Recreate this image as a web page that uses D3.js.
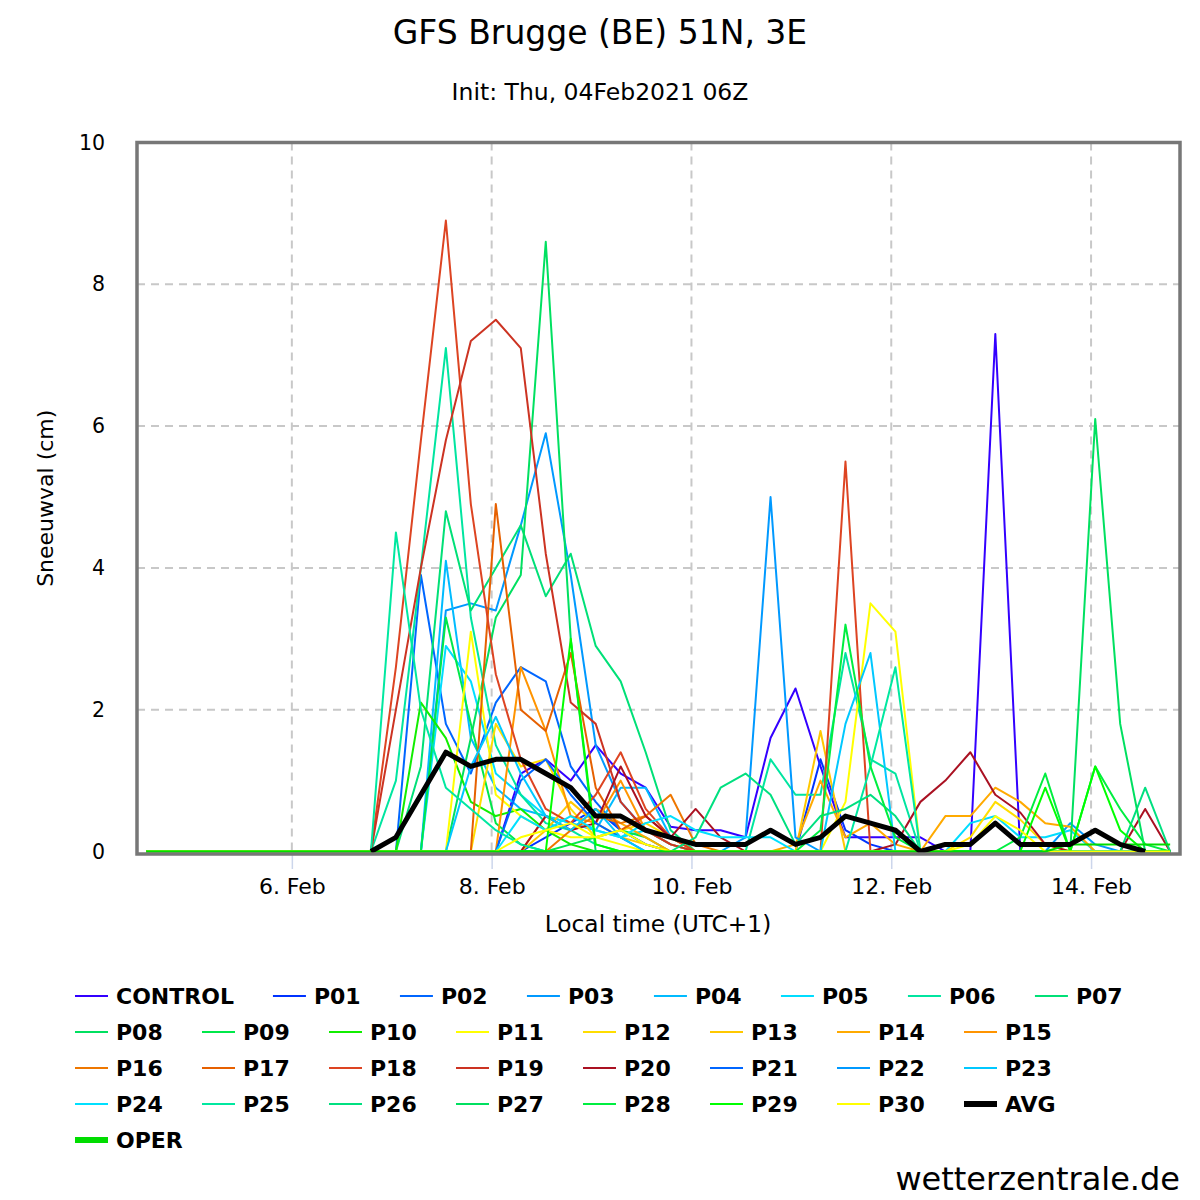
<!DOCTYPE html>
<html>
<head>
<meta charset="utf-8">
<script src="https://cdn.jsdelivr.net/npm/d3@7"></script>
<style>
  body { margin: 0; background: #fff; }
  svg { display: block; font-family: "DejaVu Sans", sans-serif; }
</style>
</head>
<body>
<svg id="chart" width="1200" height="1200"></svg>
<script>
// tijdstappen: elke 6 uur vanaf 4 Feb 13:00 lokale tijd (UTC+1), 42 punten
const startLocal = Date.UTC(2021, 1, 4, 13);
const stepHours = 6;
const nSteps = 42;

const names = ["CONTROL", "P01", "P02", "P03", "P04", "P05", "P06", "P07",
  "P08", "P09", "P10", "P11", "P12", "P13", "P14", "P15",
  "P16", "P17", "P18", "P19", "P20", "P21", "P22", "P23",
  "P24", "P25", "P26", "P27", "P28", "P29", "P30"];

const colors = ["#3300ff", "#0033ff", "#0066ff", "#0099ff", "#00bbff", "#00ddff", "#00e5a0", "#00e077",
  "#00e060", "#00e84a", "#11ee00", "#ffff00", "#ffdd00", "#ffc800", "#ffaa00", "#ff9400",
  "#ee7700", "#e66000", "#dd4422", "#cc3322", "#aa1122", "#0066ff", "#0099ff", "#00c8ff",
  "#00e0ff", "#00e8a0", "#00e080", "#00e060", "#00ee40", "#00ff00", "#ffff00"];

// sneeuwval (cm) per lid
const CONTROL = [0,0,0,0,0,0,0,0,0, 0,0,0,0,0,0,1.1,1.3,1.0,1.5,1.1,0.9,0.35,0.3,0.3,0.2,1.6,2.3,1.2,0.2,0.2,0.2,0.2,0,0,7.3,0,0,0,0,0,0,0];
const P01 = [0,0,0,0,0,0,0,0,0, 0,0,0,0,0,0,0,0.2,0.4,0.6,0.3,0.1,0,0,0,0,0,0,1.3,0.3,0.1,0,0,0,0,0,0,0,0,0,0,0,0];
const P02 = [0,0,0,0,0,0,0,0,0, 0,0,3.9,1.8,1.1,2.1,2.6,2.4,1.2,0.7,0.3,0.1,0,0,0,0,0,0,0,0,0,0,0,0,0,0,0,0,0,0,0,0,0];
const P03 = [0,0,0,0,0,0,0,0,0, 0,0,0,3.4,3.5,3.4,4.6,5.9,3.9,1.5,0.7,0.3,0.1,0,0,0,0,0,0,0,0,0,0,0,0,0,0,0,0.4,0.1,0,0,0];
const P04 = [0,0,0,0,0,0,0,0,0, 0,0,0,4.1,1.6,0.9,0.6,0.5,0.4,0.3,0.9,0.9,0.2,0,0,0,0,0,0,0,0,0,0,0,0,0,0,0,0,0,0,0,0];
const P05 = [0,0,0,0,0,0,0,0,0, 0,0,0,2.9,2.4,1.1,0.8,0.5,0.4,0.3,0.2,0.3,0.1,0,0,0,0,0,0,0,0,0,0,0,0.4,0.5,0.2,0.2,0.3,0,0,0,0];
const P06 = [0,0,0,0,0,0,0,0,0, 0,1.0,4.0,7.1,3.3,1.5,0.8,0.4,0.3,0.1,0,0,0,0,0,0,1.3,0.8,0.8,2.8,1.3,1.1,0,0,0,0,0,0,0,0,0,0,0];
const P07 = [0,0,0,0,0,0,0,0,0, 0,0,1.2,4.8,3.4,4.0,4.6,3.6,4.2,2.9,2.4,1.4,0.3,0,0,0,0,0,0,0,0,0,0,0,0,0,0,0,0,0,0,0,0];
const P08 = [0,0,0,0,0,0,0,0,0, 0,0,0,0,1.6,3.3,3.9,8.6,3.0,0,0,0,0,0,0,0,0,0,0,0,0,0,0,0,0,0,0,0,0,0,0,0,0];
const P09 = [0,0,0,0,0,0,0,0,0, 0,0,0,3.3,1.8,0.4,0.1,0,0.1,0.2,0.3,0.2,0,0,0,0,0,0,0,0,0,0,0,0,0,0,0,0,0,0,0,0,0];
const P10 = [0,0,0,0,0,0,0,0,0, 0,0,2.1,1.6,0.7,0.5,0.6,0.3,0.1,0,0,0,0,0,0,0,0,0,0,0,0,0,0,0,0,0,0,0,0,0,0,0,0];
const P11 = [0,0,0,0,0,0,0,0,0, 0,0,0,0,3.1,0.8,0.5,0.3,0.2,0.2,0.1,0,0,0,0,0,0,0,0,0.7,3.5,3.1,0,0,0,0,0,0,0,0,0,0,0];
const P12 = [0,0,0,0,0,0,0,0,0, 0,0,0,0,0,1.8,1.2,1.3,0.6,0.2,0.3,0.4,0.2,0,0,0,0,0,0,0,0,0,0,0,0.2,0.7,0.45,0.1,0,0,0,0,0];
const P13 = [0,0,0,0,0,0,0,0,0, 0,0,0,0,0,0,0,0.3,0.7,0.4,0.2,0.1,0,0,0,0,0,0,1.7,0,0,0,0,0,0,0,0,0,0,0,0,0,0];
const P14 = [0,0,0,0,0,0,0,0,0, 0,0,0,0,0,0,0,0.5,0.3,0.6,0.4,0.2,0,0,0,0,0,0.1,1.0,0.2,0.4,0.1,0,0.5,0.5,0.9,0.7,0.4,0.35,0,0,0,0];
const P15 = [0,0,0,0,0,0,0,0,0, 0,0,0,0,0,0,2.6,1.7,0.5,0.4,1.0,0.3,0.1,0,0,0,0,0,0,0,0,0,0,0,0,0,0,0,0,0,0,0,0];
const P16 = [0,0,0,0,0,0,0,0,0, 0,0,0,0,0,0,0,0,0.3,0.5,0.4,0.5,0.8,0.1,0,0,0,0,0,0,0,0,0,0,0,0,0,0,0,0,0,0,0];
const P17 = [0,0,0,0,0,0,0,0,0, 0,0,0,0,0,4.9,2.0,1.7,2.8,0.9,0.3,0.5,0.2,0,0,0,0,0,0,0,0,0,0,0,0,0,0,0,0,0,0,0,0];
const P18 = [0,0,0,0,0,0,0,0,0, 0,2.6,5.8,8.9,4.9,2.5,1.3,0.6,0.4,0.8,1.4,0.6,0.2,0,0,0,0,0,0,5.5,0,0,0,0,0,0,0,0,0,0,0,0,0];
const P19 = [0,0,0,0,0,0,0,0,0, 0,2.0,4.0,5.8,7.2,7.5,7.1,4.2,2.1,1.8,0.7,0.3,0.1,0,0,0,0,0,0,0,0,0,0,0,0,0,0,0,0,0,0,0,0];
const P20 = [0,0,0,0,0,0,0,0,0, 0,0,0,0,0,0,0,0.5,0.3,0.4,1.2,0.5,0.2,0.6,0.2,0,0,0,0,0,0,0.1,0.7,1.0,1.4,0.8,0.55,0.1,0,0,0,0.6,0];
const P21 = [0,0,0,0,0,0,0,0,0, 0,0,0,0,0,0,1.0,1.3,0.8,0.4,0.2,0,0,0,0,0,0,0,0,0,0,0,0,0,0,0,0,0,0,0,0,0,0];
const P22 = [0,0,0,0,0,0,0,0,0, 0,0,0,0,0,0,0,0,0,0,0,0,0,0,0,0.2,5.0,0.2,0,0,0,0,0,0,0,0,0,0,0,0,0,0,0];
const P23 = [0,0,0,0,0,0,0,0,0, 0,0,0,0,1.2,1.9,1.1,0.5,0.3,0.6,0.2,0,0,0,0,0,0,0,0,1.8,2.8,0,0,0,0,0,0,0,0,0,0,0,0];
const P24 = [0,0,0,0,0,0,0,0,0, 0,0,0,0,0,0,0.5,0.3,0.5,0.3,0.2,0.4,0.5,0.3,0.2,0.2,0.2,0,0,0,0,0,0,0,0,0,0,0,0,0,0,0,0];
const P25 = [0,0,0,0,0,0,0,0,0, 0,4.5,2.0,0.9,0.6,0.3,0.1,0,0,0,0,0,0,0,0,0,0,0,0,0,1.2,2.6,0,0,0,0,0,0,0,0,0,0,0];
const P26 = [0,0,0,0,0,0,0,0,0, 0,0,0,0,0,0,0,0,0,0,0,0,0,0.2,0.9,1.1,0.8,0.1,0.5,0.6,0.8,0.5,0,0,0,0,0,0,0,0,0,0.9,0];
const P27 = [0,0,0,0,0,0,0,0,0, 0,0,0,0,0,0,0,0,0,0,0,0,0,0,0,0,0,0,0,0,0,0,0,0,0,0,0,0,0,6.1,1.8,0,0];
const P28 = [0,0,0,0,0,0,0,0,0, 0,0,0,0,0,0,0,0,0,0,0,0,0,0,0,0,0,0,0.3,3.2,1.2,0.2,0,0,0,0,0.2,1.1,0,1.2,0.6,0.1,0];
const P29 = [0,0,0,0,0,0,0,0,0, 0,0,0,0,0,0,0,0,3.0,0.1,0,0,0,0,0,0,0,0,0,0,0,0,0,0,0,0,0,0.9,0,1.2,0.3,0,0];
const P30 = [0,0,0,0,0,0,0,0,0, 0,0,0,0,0,0,0.2,0.3,0.4,0.2,0.3,0.1,0,0,0,0,0,0,0,0,0,0,0,0,0.1,0.5,0.3,0,0,0,0,0,0];
const OPER = [0,0,0,0,0,0,0,0,0, 0,0,0,0,0,0,0,0,0,0,0,0,0,0,0,0,0,0,0,0,0,0,0,0,0,0,0,0,0.1,0.1,0.1,0.1,0.1];
const AVG = [null,null,null,null,null,null,null,null,null, 0,0.2,0.8,1.4,1.2,1.3,1.3,1.1,0.9,0.5,0.5,0.3,0.2,0.1,0.1,0.1,0.3,0.1,0.2,0.5,0.4,0.3,0,0.1,0.1,0.4,0.1,0.1,0.1,0.3,0.1,0,null];

const memberValues = [CONTROL, P01, P02, P03, P04, P05, P06, P07, P08, P09, P10, P11, P12, P13, P14, P15,
  P16, P17, P18, P19, P20, P21, P22, P23, P24, P25, P26, P27, P28, P29, P30];

const yTicks = [0, 2, 4, 6, 8, 10];
const xTickDays = [6, 8, 10, 12, 14];

const times = d3.range(nSteps).map(i => new Date(startLocal + i * stepHours * 3600e3));

const svg = d3.select("#chart");
const W = 1200;
const plot = { left: 137, right: 1180, top: 142.5, bottom: 854 };

// tijd as: lokale tijd als UTC behandeld
const x = d3.scaleUtc()
  .domain([new Date(Date.UTC(2021, 1, 4, 10, 48)), new Date(Date.UTC(2021, 1, 14, 21, 22))])
  .range([plot.left, plot.right]);
const y = d3.scaleLinear().domain([0, 10]).range([851.5, plot.top]);

// titels
svg.append("text").attr("x", W / 2).attr("y", 44).attr("text-anchor", "middle")
  .attr("font-size", 33).attr("fill", "#000").text("GFS Brugge (BE) 51N, 3E");
svg.append("text").attr("x", W / 2).attr("y", 100).attr("text-anchor", "middle")
  .attr("font-size", 23.5).attr("fill", "#000").text("Init: Thu, 04Feb2021 06Z");

// grid
const grid = svg.append("g").attr("stroke", "#c8c8c8").attr("stroke-width", 2).attr("stroke-dasharray", "8,6");
grid.selectAll("line.h").data(yTicks.filter(d => d > 0 && d < 10)).join("line")
  .attr("x1", plot.left).attr("x2", plot.right).attr("y1", d => y(d)).attr("y2", d => y(d));
const xTickDates = xTickDays.map(d => new Date(Date.UTC(2021, 1, d)));
grid.selectAll("line.v").data(xTickDates).join("line")
  .attr("x1", d => x(d)).attr("x2", d => x(d)).attr("y1", plot.top).attr("y2", plot.bottom);

// x as
const xAxis = svg.append("g").attr("transform", `translate(0,${plot.bottom + 1})`)
  .call(d3.axisBottom(x).tickValues(xTickDates).tickSize(14).tickPadding(9).tickFormat(d3.utcFormat("%-d. %b")));
xAxis.select(".domain").remove();
xAxis.selectAll(".tick line").attr("stroke", "#ccd6eb").attr("stroke-width", 1.5);
xAxis.selectAll(".tick text").attr("font-size", 22).attr("font-family", "DejaVu Sans").attr("fill", "#000");

// y as
const yAxis = svg.append("g").attr("transform", `translate(${plot.left},0)`)
  .call(d3.axisLeft(y).tickValues(yTicks).tickSize(0).tickPadding(32));
yAxis.select(".domain").remove();
yAxis.selectAll(".tick text").attr("font-size", 20.5).attr("font-family", "DejaVu Sans").attr("fill", "#000");

svg.append("text").attr("transform", `translate(53,${(plot.top + plot.bottom) / 2}) rotate(-90)`)
  .attr("text-anchor", "middle").attr("font-size", 22).attr("fill", "#000").text("Sneeuwval (cm)");
svg.append("text").attr("x", 658).attr("y", 932)
  .attr("text-anchor", "middle").attr("font-size", 23.3).attr("fill", "#000").text("Local time (UTC+1)");

// lijnen
const line = d3.line()
  .defined(d => d[1] != null)
  .x(d => x(d[0]))
  .y(d => y(d[1]));

const lines = svg.append("g").attr("fill", "none").attr("stroke-linejoin", "round");
memberValues.forEach((vals, i) => {
  lines.append("path")
    .attr("d", line(vals.map((v, j) => [times[j], v])))
    .attr("stroke", colors[i]).attr("stroke-width", 2);
});
lines.append("path").attr("d", line(OPER.map((v, j) => [times[j], v])))
  .attr("stroke", "#00dd00").attr("stroke-width", 2);
lines.append("path").attr("d", line(AVG.map((v, j) => [times[j], v])))
  .attr("stroke", "#000").attr("stroke-width", 5);

// kader
svg.append("rect").attr("x", plot.left).attr("y", plot.top)
  .attr("width", plot.right - plot.left).attr("height", plot.bottom - plot.top)
  .attr("fill", "none").attr("stroke", "#777").attr("stroke-width", 3.5);

// legenda: items van 127px breed, langere namen krijgen meer ruimte
const legendItems = names.map((n, i) => ({ name: n, color: colors[i], w: 2 }))
  .concat([{ name: "AVG", color: "#000", w: 6 }, { name: "OPER", color: "#00dd00", w: 6 }]);
const legend = svg.append("g").attr("font-size", 22).attr("font-weight", "bold");
let lx = 75, ly = 996;
legendItems.forEach(item => {
  const g = legend.append("g");
  const t = g.append("text").attr("x", 41).attr("y", 0).attr("dy", "0.36em").attr("fill", "#000").text(item.name);
  const wItem = Math.max(127, 80 + t.node().getComputedTextLength());
  if (lx + wItem > 1190) { lx = 75; ly += 36; }
  g.attr("transform", `translate(${lx},${ly})`);
  g.append("line").attr("x1", 0).attr("x2", 33).attr("y1", 0).attr("y2", 0)
    .attr("stroke", item.color).attr("stroke-width", item.w);
  lx += wItem;
});

svg.append("text").attr("x", 1180).attr("y", 1190).attr("text-anchor", "end")
  .attr("font-size", 32).attr("fill", "#000").text("wetterzentrale.de");
</script>
</body>
</html>
